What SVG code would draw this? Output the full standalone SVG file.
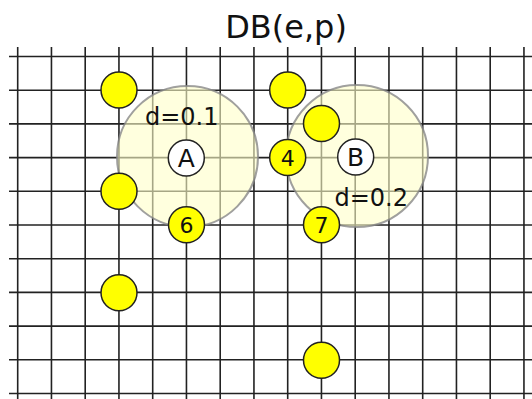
<svg xmlns="http://www.w3.org/2000/svg" width="532" height="399" viewBox="0 0 532 399">
  <style>
    .grid line { stroke: #222; stroke-width: 1.6; }
    .region { fill: #ffffc8; fill-opacity: 0.6; stroke: #888; stroke-width: 2; stroke-opacity: 0.8; }
    .pt { fill: #ffff00; stroke: #222; stroke-width: 1.5; }
    .ctr { fill: #fff; stroke: #222; stroke-width: 1.5; }
    text { font-family: "DejaVu Sans", Verdana, sans-serif; fill: #111; }
    .lbl { font-size: 22px; text-anchor: middle; }
    .big { font-size: 25px; text-anchor: middle; }
    .dist { font-size: 24px; }
    .title { font-size: 32px; text-anchor: middle; }
  </style>

  <rect width="532" height="399" fill="#fff"/>

  <text class="title" x="286" y="38">DB(e,p)</text>

  <!-- grid: columns every 33.75px from x=17.7, rows every 33.7px from y=56.5 -->
  <g class="grid">
    <line x1="9" y1="56.5" x2="532" y2="56.5"/>
    <line x1="9" y1="90.2" x2="532" y2="90.2"/>
    <line x1="9" y1="123.9" x2="532" y2="123.9"/>
    <line x1="9" y1="157.6" x2="532" y2="157.6"/>
    <line x1="9" y1="191.3" x2="532" y2="191.3"/>
    <line x1="9" y1="225" x2="532" y2="225"/>
    <line x1="9" y1="258.7" x2="532" y2="258.7"/>
    <line x1="9" y1="292.4" x2="532" y2="292.4"/>
    <line x1="9" y1="326.1" x2="532" y2="326.1"/>
    <line x1="9" y1="359.8" x2="532" y2="359.8"/>
    <line x1="9" y1="393.5" x2="532" y2="393.5"/>

    <line x1="17.7" y1="47" x2="17.7" y2="399"/>
    <line x1="51.45" y1="47" x2="51.45" y2="399"/>
    <line x1="85.2" y1="47" x2="85.2" y2="399"/>
    <line x1="118.95" y1="47" x2="118.95" y2="399"/>
    <line x1="152.7" y1="47" x2="152.7" y2="399"/>
    <line x1="186.45" y1="47" x2="186.45" y2="399"/>
    <line x1="220.2" y1="47" x2="220.2" y2="399"/>
    <line x1="253.95" y1="47" x2="253.95" y2="399"/>
    <line x1="287.7" y1="47" x2="287.7" y2="399"/>
    <line x1="321.45" y1="47" x2="321.45" y2="399"/>
    <line x1="355.2" y1="47" x2="355.2" y2="399"/>
    <line x1="388.95" y1="47" x2="388.95" y2="399"/>
    <line x1="422.7" y1="47" x2="422.7" y2="399"/>
    <line x1="456.45" y1="47" x2="456.45" y2="399"/>
    <line x1="490.2" y1="47" x2="490.2" y2="399"/>
    <line x1="523.95" y1="47" x2="523.95" y2="399"/>
  </g>

  <!-- eps-neighbourhoods of the two centres -->
  <g id="region-A">
    <circle class="region" cx="187.5" cy="156.5" r="70.5"/>
  </g>
  <g id="region-B">
    <circle class="region" cx="357" cy="156" r="71"/>
  </g>

  <text class="dist" x="145" y="124.5">d=0.1</text>
  <text class="dist" x="334.5" y="206">d=0.2</text>

  <!-- centres -->
  <g id="node-A">
    <circle class="ctr" cx="186.3" cy="158" r="18"/>
    <text class="big" x="186.3" y="167">A</text>
  </g>
  <g id="node-B">
    <circle class="ctr" cx="355.7" cy="157" r="18"/>
    <text class="big" x="355.7" y="166">B</text>
  </g>

  <!-- data points -->
  <g id="p1"><circle class="pt" cx="119" cy="90" r="18"/></g>
  <g id="p2"><circle class="pt" cx="287.7" cy="90" r="18"/></g>
  <g id="p3"><circle class="pt" cx="321.5" cy="123.5" r="18"/></g>
  <g id="p4">
    <circle class="pt" cx="287.7" cy="157.5" r="18"/>
    <text class="lbl" x="287.7" y="165.5">4</text>
  </g>
  <g id="p5"><circle class="pt" cx="119" cy="191.3" r="18"/></g>
  <g id="p6">
    <circle class="pt" cx="186.5" cy="224.7" r="18"/>
    <text class="lbl" x="186.5" y="232.7">6</text>
  </g>
  <g id="p7">
    <circle class="pt" cx="321.5" cy="224.7" r="18"/>
    <text class="lbl" x="321.5" y="232.7">7</text>
  </g>
  <g id="p8"><circle class="pt" cx="119" cy="292.8" r="18"/></g>
  <g id="p9"><circle class="pt" cx="321.5" cy="360.2" r="18"/></g>
</svg>
